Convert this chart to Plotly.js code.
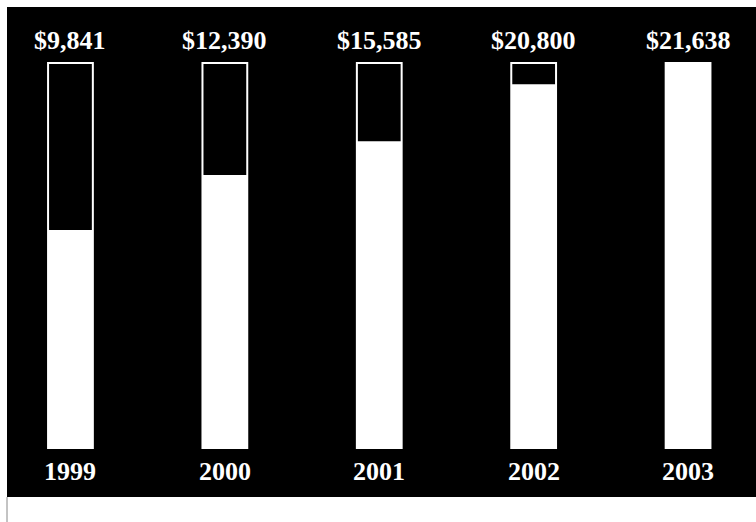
<!DOCTYPE html>
<html>
<head>
<meta charset="utf-8">
<script src="https://cdn.plot.ly/plotly-3.0.1.min.js"></script>
<style>html,body{margin:0;padding:0;background:#fff;}#chart{width:756px;height:522px;}</style>
</head>
<body>
<div id="chart"></div>
<script>
// Data
var years = ['1999', '2000', '2001', '2002', '2003'];
var amounts = [9841, 12390, 15585, 20800, 21638];
var amountLabels = ['$9,841', '$12,390', '$15,585', '$20,800', '$21,638'];
// Filled share of each outlined column, in percent of the column height
var fillShare = [56.6, 70.9, 79.7, 94.5, 100];
var frameFull = [100, 100, 100, 100, 100];

var idx = years.map(function (_, i) { return i; });
var labelFont = {family: '"Liberation Serif", "DejaVu Serif", serif', size: 26, color: '#ffffff', weight: 'bold'};

var fillTrace = {
  type: 'bar', x: idx, y: fillShare, width: 0.29,
  marker: {color: '#ffffff', line: {width: 0}},
  hoverinfo: 'skip', showlegend: false
};
var frameTrace = {
  type: 'bar', x: idx, y: frameFull, width: 0.29,
  marker: {color: 'rgba(0,0,0,0)', line: {color: '#ffffff', width: 2}},
  hoverinfo: 'skip', showlegend: false
};

var annotations = [];
idx.forEach(function (i) {
  annotations.push({
    x: i, y: 100, xref: 'x', yref: 'y', text: amountLabels[i],
    showarrow: false, yanchor: 'middle', yshift: 23, font: labelFont
  });
  annotations.push({
    x: i, y: 0, xref: 'x', yref: 'y', text: years[i],
    showarrow: false, yanchor: 'middle', yshift: -24, font: labelFont
  });
});

var layout = {
  width: 756, height: 522,
  margin: {l: 7, r: 0, t: 7, b: 25, pad: 0},
  paper_bgcolor: '#ffffff', plot_bgcolor: '#000000',
  barmode: 'overlay',
  xaxis: {range: [-0.411, 4.44], showgrid: false, zeroline: false, showticklabels: false, ticks: '', fixedrange: true},
  yaxis: {range: [-12.73, 114.55], showgrid: false, zeroline: false, showticklabels: false, ticks: '', fixedrange: true},
  annotations: annotations,
  shapes: [{type: 'line', xref: 'paper', yref: 'paper', x0: 0, x1: 0, y0: 0, y1: -0.06, line: {color: '#888888', width: 1}}]
};

Plotly.newPlot('chart', [fillTrace, frameTrace], layout, {displayModeBar: false, staticPlot: true});
</script>
</body>
</html>
